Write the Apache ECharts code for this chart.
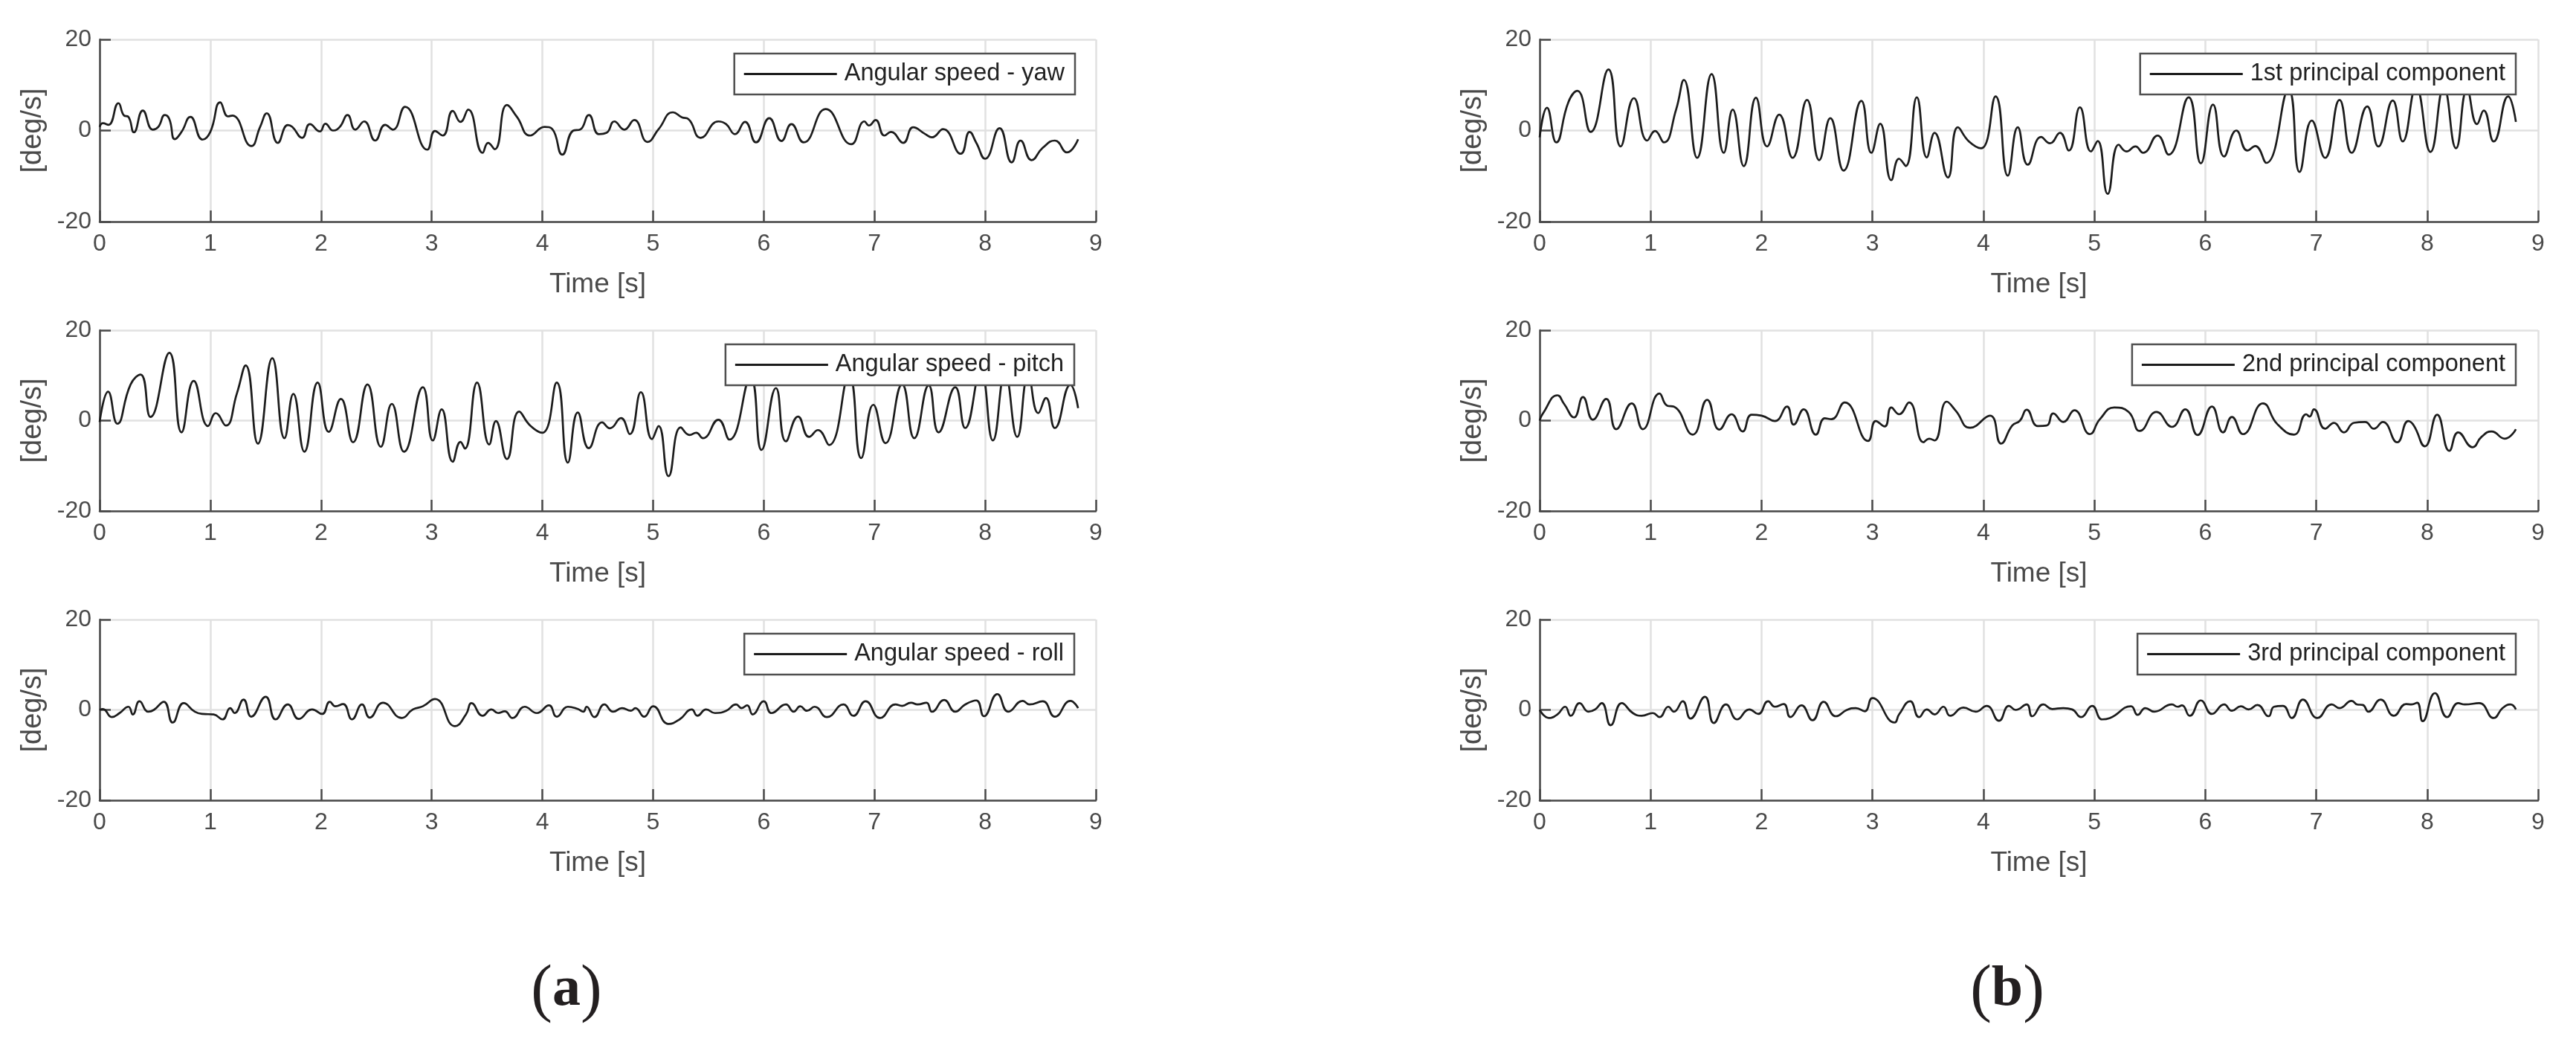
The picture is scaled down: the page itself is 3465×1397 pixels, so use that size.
<!DOCTYPE html>
<html><head><meta charset="utf-8">
<script src="https://cdn.jsdelivr.net/npm/echarts@6/dist/echarts.min.js"></script>
<style>html,body{margin:0;padding:0;background:#fff}#c{width:3465px;height:1397px}</style>
</head><body><div id="c"></div>
<script>
// ---- data: [time (s), angular speed (deg/s)] ----
const yaw = [[0,0.8],[0.03,1.6],[0.08,1.25],[0.17,6.0],[0.22,3.3],[0.26,3.0],[0.31,-0.4],[0.39,4.4],[0.48,0.2],[0.53,0.8],
[0.59,3.4],[0.63,2.5],[0.68,-1.9],[0.74,-0.3],[0.82,3.0],[0.93,-2.0],[1.0,-0.3],[1.09,6.2],[1.16,3.1],[1.20,3.3],
[1.37,-3.4],[1.45,0.8],[1.51,3.8],[1.61,-2.7],[1.70,1.2],[1.74,0.8],[1.83,-1.6],[1.90,1.4],[1.99,-0.2],[2.04,1.5],
[2.11,0],[2.17,0.8],[2.24,3.4],[2.31,0.2],[2.39,2.0],[2.49,-2.2],[2.58,1.25],[2.65,0.2],[2.76,5.2],[2.96,-4.2],
[3.03,-0.1],[3.10,-1.1],[3.19,4.3],[3.26,1.9],[3.33,4.6],[3.46,-4.9],[3.51,-2.7],[3.57,-4.1],[3.68,5.6],[3.77,3.0],
[3.89,-1.1],[4.02,0.8],[4.09,0.3],[4.18,-5.3],[4.28,0],[4.34,0.2],[4.42,3.4],[4.51,-0.8],[4.58,-0.5],[4.65,2.0],
[4.74,0.2],[4.83,2.3],[4.95,-2.5],[5.05,0.3],[5.18,4.0],[5.26,2.9],[5.32,2.5],[5.43,-1.6],[5.59,2.0],[5.66,1.4],
[5.74,-0.8],[5.83,1.9],[5.93,-2.6],[6.05,2.7],[6.16,-2.3],[6.25,1.4],[6.36,-2.6],[6.56,4.7],[6.79,-3.0],[6.91,2.0],
[6.95,1.1],[7.01,2.3],[7.09,-1.1],[7.15,-0.3],[7.26,-2.7],[7.35,0.7],[7.46,-0.8],[7.52,-1.5],[7.62,0.3],[7.78,-5.1],
[7.86,-0.3],[7.92,-2.7],[8.0,-6.2],[8.13,0.5],[8.24,-7.0],[8.32,-2.2],[8.42,-6.5],[8.52,-3.8],[8.63,-2.2],[8.74,-4.8],[8.84,-1.9]];

const pitch = [[0,-0.3],[0.077,6.4],[0.16,-0.7],[0.28,8],[0.37,10.2],[0.46,0.8],[0.63,15],[0.74,-2.6],[0.85,8.8],[0.98,-1.2],
[1.05,1.65],[1.14,-1.1],[1.24,6],[1.32,12.2],[1.43,-5.1],[1.56,13.8],[1.67,-3.9],[1.75,5.9],[1.85,-6.9],[1.97,8.4],
[2.07,-2.5],[2.18,4.8],[2.29,-4.8],[2.42,8.0],[2.54,-5.8],[2.64,3.7],[2.75,-6.9],[2.92,7.4],[3.01,-4.4],[3.09,2.5],
[3.19,-9.1],[3.26,-4.7],[3.30,-6.2],[3.41,8.4],[3.52,-5.3],[3.58,-0.1],[3.68,-8.5],[3.79,2.0],[3.89,-1.1],[4.0,-2.7],
[4.13,8.4],[4.23,-9.3],[4.32,1.8],[4.42,-6.1],[4.54,-0.4],[4.61,-1.7],[4.71,0.55],[4.79,-3.0],[4.89,6.3],[4.99,-4.1],
[5.05,-1.2],[5.14,-12.3],[5.25,-1.5],[5.33,-3.2],[5.39,-2.7],[5.45,-3.9],[5.59,0.2],[5.69,-4.2],[5.88,9.5],
[5.98,-6.5],[6.11,7.2],[6.2,-4.6],[6.31,0.9],[6.41,-3.6],[6.49,-2.1],[6.59,-5.4],[6.77,10],[6.88,-8.3],[6.99,3.5],
[7.10,-5.0],[7.25,8.0],[7.36,-3.9],[7.49,7.8],[7.58,-2.6],[7.73,7.4],[7.82,-1.65],[7.96,11],[8.07,-4.4],[8.18,10.5],
[8.29,-3.6],[8.39,10],[8.48,1.65],[8.55,5.0],[8.63,-1.65],[8.77,7.9],[8.84,2.75]];

const roll = [[0,0],[0.03,0.2],[0.11,-1.6],[0.18,-0.7],[0.26,0.7],[0.30,-1.0],[0.36,1.9],[0.44,-0.4],[0.49,0],[0.58,1.8],
[0.66,-2.8],[0.76,1.5],[0.86,-0.4],[0.93,-0.9],[1.03,-1.0],[1.11,-2.1],[1.18,0.4],[1.22,-0.7],[1.30,2.3],[1.37,-1.5],
[1.50,2.9],[1.59,-2.1],[1.70,1.2],[1.80,-2.0],[1.92,0.1],[2.01,-0.9],[2.08,1.8],[2.13,0.8],[2.20,1.3],[2.28,-2.1],
[2.37,1.2],[2.44,-1.7],[2.56,1.6],[2.73,-1.8],[2.83,0.1],[2.92,0.8],[3.03,2.4],[3.21,-3.6],[3.31,-1.0],[3.36,1.5],
[3.46,-1.3],[3.54,0.1],[3.60,-0.7],[3.66,-0.3],[3.73,-1.8],[3.84,0.7],[3.95,-0.7],[4.06,1.0],[4.13,-1.5],[4.23,0.7],
[4.32,0.2],[4.37,-0.4],[4.40,0.7],[4.47,-1.6],[4.56,1.2],[4.64,-0.4],[4.72,0.4],[4.80,-0.2],[4.84,0.4],[4.92,-1.5],
[5.00,0.8],[5.14,-3.1],[5.24,-2.1],[5.35,0.1],[5.40,-1.3],[5.48,0.1],[5.56,-0.7],[5.66,-0.2],[5.75,1.2],[5.80,0.4],
[5.85,1.0],[5.90,-1.0],[6.00,1.9],[6.07,-0.7],[6.20,1.2],[6.27,-0.4],[6.33,0.8],[6.39,-0.2],[6.46,0.7],[6.57,-1.6],
[6.72,1.2],[6.81,-1.3],[6.92,1.9],[7.05,-1.8],[7.19,1.2],[7.25,0.9],[7.33,1.6],[7.39,1.2],[7.47,1.6],[7.52,-0.4],
[7.63,2.2],[7.73,-0.4],[7.82,1.2],[7.92,2.1],[7.99,-1.4],[8.11,3.5],[8.21,-0.4],[8.34,2.0],[8.40,1.2],[8.52,1.9],
[8.63,-1.5],[8.77,2.0],[8.84,0.4]];

const pc1 = [[0,-1.5],[0.066,5.0],[0.15,-2.6],[0.26,6.3],[0.34,8.7],[0.46,-0.3],[0.62,13.4],[0.73,-3.5],[0.85,7.1],[0.97,-2.2],
[1.04,-0.1],[1.12,-2.6],[1.23,4.6],[1.30,11.1],[1.42,-6.0],[1.55,12.4],[1.66,-4.9],[1.74,4.6],[1.84,-7.8],[1.95,7.2],
[2.05,-3.5],[2.16,3.5],[2.28,-6.0],[2.41,6.7],[2.52,-6.5],[2.62,2.7],[2.74,-8.8],[2.90,6.5],[2.99,-4.9],[3.07,1.5],
[3.17,-10.9],[3.24,-6.2],[3.30,-7.8],[3.40,7.3],[3.49,-5.9],[3.56,-0.5],[3.68,-10.3],[3.77,0.7],[3.87,-2.4],[3.98,-3.9],
[4.11,7.5],[4.22,-9.9],[4.31,0.7],[4.40,-7.5],[4.52,-1.4],[4.60,-2.8],[4.69,-0.5],[4.77,-4.4],[4.87,5.1],[4.97,-4.6],
[5.03,-2.3],[5.12,-13.9],[5.22,-3.1],[5.29,-4.6],[5.37,-3.5],[5.44,-4.9],[5.57,-1.1],[5.67,-5.3],[5.85,7.3],[5.96,-7.2],
[6.07,5.7],[6.17,-5.7],[6.28,0],[6.38,-4.4],[6.45,-3.4],[6.55,-7.1],[6.75,9],[6.85,-9.1],[6.96,2.2],[7.08,-6.0],
[7.21,6.7],[7.32,-4.9],[7.46,5.3],[7.56,-3.5],[7.69,6.6],[7.78,-2.4],[7.90,9.5],[8.03,-4.7],[8.15,9.5],[8.26,-3.9],
[8.36,9],[8.45,1.4],[8.51,4.4],[8.60,-2.4],[8.73,7.5],[8.80,1.9]];

const pc2 = [[0,0],[0.03,1.6],[0.16,5.6],[0.22,3.7],[0.31,0.7],[0.39,5.2],[0.48,0.2],[0.60,4.8],[0.69,-1.9],[0.83,3.8],
[0.93,-1.9],[1.08,6.0],[1.15,3.3],[1.21,3.1],[1.38,-3.1],[1.51,4.6],[1.62,-2.0],[1.73,1.4],[1.83,-2.4],[1.91,1.3],
[2.0,1.1],[2.12,-0.1],[2.23,3.1],[2.29,-0.9],[2.38,2.5],[2.49,-3.1],[2.57,0.5],[2.63,0.3],[2.75,4.0],[2.96,-4.5],
[3.03,-0.1],[3.11,-1.3],[3.17,2.9],[3.24,1.4],[3.33,4.0],[3.46,-4.8],[3.51,-4.0],[3.56,-4.4],[3.67,4.2],[3.75,2.2],
[3.88,-1.6],[4.06,1.1],[4.16,-5.1],[4.26,-1.1],[4.33,0],[4.39,2.4],[4.49,-1.2],[4.57,-1.1],[4.63,1.6],[4.72,-0.3],
[4.82,2.3],[4.96,-3.0],[5.05,0.3],[5.18,2.9],[5.31,1.9],[5.41,-2.3],[5.56,1.9],[5.70,-1.4],[5.82,2.5],[5.93,-3.2],
[6.06,3.1],[6.16,-2.6],[6.24,0.8],[6.34,-3.0],[6.52,3.8],[6.65,-0.8],[6.80,-3.1],[6.91,1.4],[6.94,0.9],[6.98,2.5],
[7.08,-1.8],[7.16,-0.5],[7.25,-2.6],[7.34,-0.5],[7.44,-0.3],[7.52,-1.8],[7.60,-0.3],[7.73,-4.8],[7.83,-0.1],[7.88,-1.1],
[7.98,-5.7],[8.09,1.3],[8.20,-6.7],[8.28,-2.6],[8.41,-5.9],[8.49,-3.6],[8.58,-2.4],[8.70,-4.0],[8.80,-1.9]];

const pc3 = [[0,0],[0.085,-1.8],[0.16,-1.0],[0.23,0.7],[0.28,-1.3],[0.36,1.5],[0.44,-0.4],[0.50,0.1],[0.56,1.5],[0.64,-3.4],
[0.74,1.5],[0.84,-0.7],[0.92,-1.3],[1.02,-0.7],[1.08,-1.6],[1.16,0.7],[1.21,-0.4],[1.29,1.9],[1.36,-1.9],[1.49,2.9],
[1.57,-2.9],[1.68,1.2],[1.78,-2.1],[1.89,0.1],[1.97,-0.9],[2.06,1.9],[2.12,0.7],[2.20,1.3],[2.26,-1.6],[2.36,1.0],
[2.46,-2.3],[2.56,1.8],[2.67,-1.4],[2.77,0],[2.85,0.4],[2.93,-0.3],[3.0,2.6],[3.20,-2.8],[3.24,-1.0],[3.34,1.9],
[3.42,-1.6],[3.49,0.1],[3.56,-1.0],[3.64,0.7],[3.70,-1.3],[3.82,0.5],[3.93,-0.4],[4.03,0.9],[4.14,-2.4],[4.23,0.9],
[4.29,0],[4.39,1.2],[4.44,-1.4],[4.54,1.2],[4.62,0.2],[4.72,0.4],[4.80,0.1],[4.88,-1.6],[4.98,0.9],[5.07,-2.1],
[5.14,-1.8],[5.33,0.8],[5.39,-1.1],[5.46,0.4],[5.54,-0.4],[5.70,1.2],[5.75,0.7],[5.79,1.0],[5.86,-1.3],[5.96,2.1],
[6.06,-0.9],[6.17,1.2],[6.24,-0.2],[6.32,0.8],[6.39,0.1],[6.47,1.1],[6.57,-1.4],[6.62,0.7],[6.70,0.9],[6.78,-1.8],
[6.88,2.3],[7.01,-1.8],[7.14,1.2],[7.21,0.4],[7.32,2.0],[7.37,1.2],[7.42,1.1],[7.47,-0.4],[7.58,2.3],[7.70,-1.3],
[7.81,1.3],[7.86,1.2],[7.91,1.6],[7.96,-2.5],[8.07,3.7],[8.18,-1.6],[8.28,1.5],[8.34,1.2],[8.47,1.5],[8.60,-1.8],
[8.68,0.4],[8.75,1.2],[8.80,0.1]];

const seriesNames = ['Angular speed - yaw','Angular speed - pitch','Angular speed - roll',
  '1st principal component','2nd principal component','3rd principal component'];
const seriesData = [yaw, pitch, roll, pc1, pc2, pc3];
const xTicks = [0,9,1];      // min, max, interval
const yTicks = [-20,20,20];  // min, max, interval
const xName = 'Time [s]';
const yName = '[deg/s]';
const panelLabels = ['a','b'];

// ---- layout / style ----
const FONT = "'Liberation Sans', Arial, Helvetica, sans-serif";
const SERIF = "'Liberation Serif', 'Times New Roman', serif";
const AX = '#4a4a4a';
const GRIDC = '#e1e1e1';
const grids = [
  {left:134, top:53, width:1340, height:245},
  {left:134, top:444, width:1340, height:243},
  {left:134, top:833, width:1340, height:243},
  {left:2071, top:53, width:1343, height:245},
  {left:2071, top:444, width:1343, height:243},
  {left:2071, top:833, width:1343, height:243}
];
const legendPos = [
  {right:2019, top:72},{right:2020, top:463},{right:2020, top:852},
  {right:81, top:72},{right:81, top:463},{right:81, top:852}
];

const chart = echarts.init(document.getElementById('c'), null, {renderer:'canvas'});
const xAxes = [], yAxes = [], series = [], legends = [];
grids.forEach((g,i)=>{
  xAxes.push({
    type:'value', gridIndex:i, min:xTicks[0], max:xTicks[1], interval:xTicks[2],
    name:xName, nameLocation:'middle', nameGap:66,
    nameTextStyle:{fontFamily:FONT, fontSize:37, color:AX},
    axisLine:{show:true, onZero:false, lineStyle:{color:AX, width:2.5}},
    axisTick:{show:true, inside:true, length:15, lineStyle:{color:AX, width:2.5}},
    axisLabel:{fontFamily:FONT, fontSize:32, color:AX, margin:14, showMinLabel:true, showMaxLabel:true},
    splitLine:{show:true, lineStyle:{color:GRIDC, width:2.5}}
  });
  yAxes.push({
    type:'value', gridIndex:i, min:yTicks[0], max:yTicks[1], interval:yTicks[2],
    name:yName, nameLocation:'middle', nameGap:70, nameRotate:90,
    nameTextStyle:{fontFamily:FONT, fontSize:38, color:AX},
    axisLine:{show:true, lineStyle:{color:AX, width:2.5}},
    axisTick:{show:true, inside:true, length:15, lineStyle:{color:AX, width:2.5}},
    axisLabel:{fontFamily:FONT, fontSize:32, color:AX, margin:11, showMinLabel:true, showMaxLabel:true},
    splitLine:{show:true, lineStyle:{color:GRIDC, width:2.5}}
  });
  series.push({
    type:'line', name:seriesNames[i], xAxisIndex:i, yAxisIndex:i,
    data:seriesData[i], smooth:0.5, symbol:'none', showSymbol:false,
    lineStyle:{color:'#1c1c1c', width:2.7}, itemStyle:{color:'#1c1c1c'}, z:2
  });
  legends.push(Object.assign({
    data:[seriesNames[i]], orient:'horizontal', icon:'rect',
    itemWidth:125, itemHeight:3, itemGap:0,
    padding:[11,14,11,13], backgroundColor:'#ffffff',
    borderColor:'#505050', borderWidth:2.5, borderRadius:0,
    textStyle:{fontFamily:FONT, fontSize:32.5, color:'#222', padding:[0,0,0,5]},
    itemStyle:{color:'#1c1c1c'}, selectedMode:false, z:10
  }, legendPos[i]));
});

function subLabel(letter, x){
  return {type:'text', x:x, y:1334, style:{text:'{p|(}{b|'+letter+'}{p|)}', align:'center', verticalAlign:'middle',
    rich:{p:{fontFamily:SERIF, fontSize:86, fill:'#231f20', verticalAlign:'middle'},
          b:{fontFamily:SERIF, fontSize:76, fontWeight:'bold', fill:'#231f20', verticalAlign:'middle', padding:[0,0,6,0]}}}};
}

chart.setOption({
  animation:false,
  backgroundColor:'#ffffff',
  grid:grids,
  xAxis:xAxes, yAxis:yAxes, series:series, legend:legends,
  graphic:[subLabel(panelLabels[0], 762), subLabel(panelLabels[1], 2700)]
});
</script></body></html>
